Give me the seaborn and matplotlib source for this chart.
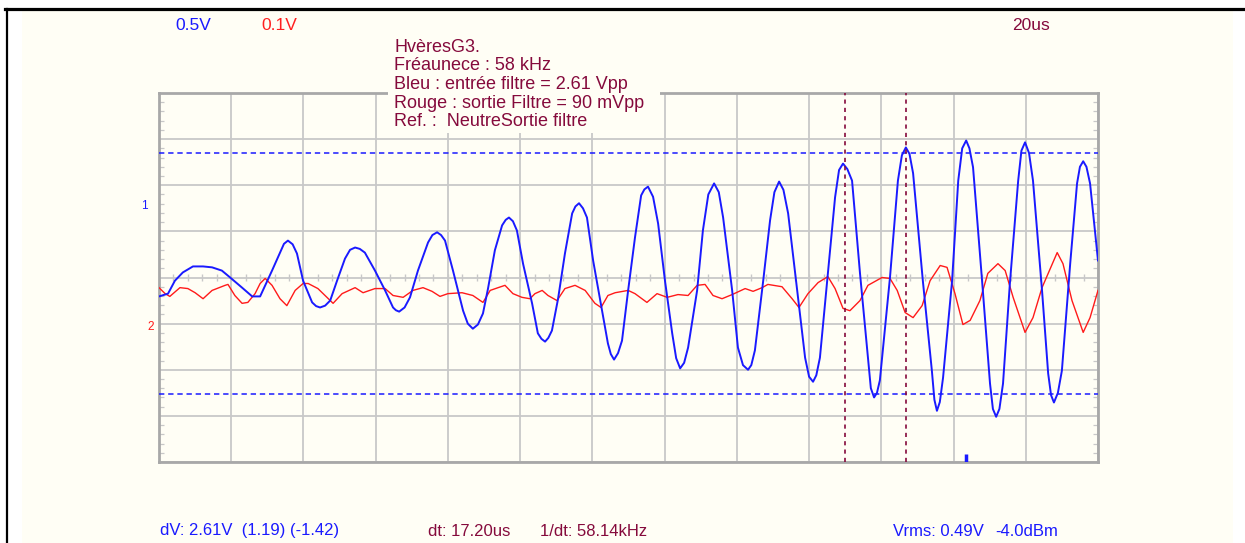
import numpy as np
import pandas as pd
import matplotlib
matplotlib.use("Agg")
import matplotlib.pyplot as plt
from matplotlib.patches import Rectangle
from matplotlib.lines import Line2D
from matplotlib.ticker import MultipleLocator
import seaborn as sns

# ---------------- data (time in us, amplitude in screen divisions) ----------------
blue_t = [0.0, 2.5, 4.4, 6.6, 9.4, 12.2, 14.7, 17.4, 19.7, 23.0, 25.8, 28.0, 29.4, 31.3,
          33.5, 34.6, 35.7, 37.0, 38.2, 39.9, 42.4, 43.5, 44.6, 46.0, 47.4, 49.3, 51.5,
          52.9, 54.3, 55.6, 57.0, 59.8, 62.6, 64.8, 65.6, 66.5, 68.0, 69.5, 71.7, 74.5,
          75.7, 77.0, 78.1, 79.2, 81.4, 84.2, 85.5, 86.9, 88.3, 89.7, 91.1, 93.0, 95.0,
          96.0, 96.9, 98.0, 99.1, 100.8, 103.3, 104.9, 105.9, 106.9, 107.8, 108.8, 110.5,
          112.4, 114.4, 115.3, 116.3, 117.4, 118.5, 120.2, 122.7, 124.3, 125.1, 126.0,
          127.1, 128.2, 129.9, 131.8, 133.5, 134.4, 135.4, 136.8, 138.2, 140.1, 142.1,
          143.2, 144.3, 145.4, 146.5, 149.0, 150.6, 152.1, 153.7, 155.0, 156.2, 158.7,
          160.3, 161.7, 163.1, 164.0, 165.0, 167.3, 169.2, 170.4, 171.7, 172.9, 174.2,
          176.7, 178.9, 180.0, 181.1, 182.0, 183.0, 185.2, 187.2, 188.3, 189.4, 190.6,
          191.9, 194.1, 196.3, 197.1, 198.0, 198.8, 199.6, 202.4, 204.6, 205.7, 206.8,
          207.8, 208.8, 211.5, 214.0, 214.7, 215.4, 216.2, 217.1, 219.6, 221.3, 222.4,
          223.5, 224.4, 225.4, 227.9, 230.1, 230.9, 231.8, 232.7, 233.7, 235.6, 237.9,
          238.8, 239.8, 240.9, 242.0, 244.5, 246.2, 247.0, 247.8, 248.9, 250.0, 252.3,
          254.2, 255.0, 255.9, 256.8, 257.8, 260.0]
blue_v = [-0.41, -0.35, -0.07, 0.11, 0.24, 0.24, 0.22, 0.15, 0.00, -0.22, -0.41, -0.41,
          -0.17, 0.15, 0.54, 0.73, 0.80, 0.72, 0.52, -0.07, -0.54, -0.62, -0.65, -0.61,
          -0.50, -0.07, 0.41, 0.60, 0.65, 0.62, 0.54, 0.15, -0.28, -0.65, -0.71, -0.74,
          -0.65, -0.43, 0.15, 0.76, 0.92, 0.98, 0.92, 0.80, 0.15, -0.72, -1.00, -1.11,
          -1.02, -0.78, -0.24, 0.59, 1.13, 1.25, 1.30, 1.22, 1.02, 0.30, -0.56, -1.21,
          -1.33, -1.39, -1.31, -1.15, -0.46, 0.52, 1.39, 1.54, 1.61, 1.50, 1.30, 0.37,
          -0.72, -1.43, -1.66, -1.78, -1.64, -1.37, -0.28, 0.87, 1.78, 1.91, 1.97, 1.75,
          1.17, -0.07, -1.21, -1.75, -1.97, -1.85, -1.52, -0.28, 1.02, 1.80, 2.04, 1.85,
          1.30, -0.28, -1.52, -1.90, -2.00, -1.90, -1.58, -0.07, 1.24, 1.85, 2.08, 1.90,
          1.39, -0.28, -1.74, -2.15, -2.26, -2.12, -1.74, 0.09, 1.74, 2.33, 2.47, 2.35,
          2.10, 0.09, -1.74, -2.40, -2.60, -2.50, -2.23, 0.00, 2.10, 2.65, 2.82, 2.68,
          2.26, -0.07, -2.02, -2.65, -2.89, -2.70, -2.17, -0.07, 2.10, 2.80, 2.97, 2.80,
          2.39, -0.07, -2.30, -2.85, -3.02, -2.85, -2.30, -0.13, 2.10, 2.75, 2.93, 2.70,
          2.10, -0.28, -2.08, -2.55, -2.71, -2.50, -2.02, 0.30, 2.04, 2.40, 2.52, 2.40,
          2.04, 0.37]

red_t = [0.0, 1.7, 3.0, 5.8, 8.0, 10.0, 12.2, 14.7, 18.3, 19.1, 21.0, 23.0, 24.6, 26.6,
         28.0, 29.4, 31.3, 33.5, 35.4, 37.7, 39.9, 41.3, 44.0, 46.5, 48.2, 50.7, 54.3,
         56.5, 59.8, 62.6, 64.8, 67.6, 70.3, 73.1, 75.6, 77.8, 80.0, 83.9, 86.9, 89.7,
         91.7, 93.9, 95.8, 98.0, 100.5, 102.7, 104.1, 106.1, 107.7, 110.2, 112.4, 115.2,
         118.0, 120.7, 122.4, 124.3, 126.3, 129.9, 131.8, 135.1, 137.9, 140.7, 143.7,
         146.5, 149.0, 151.2, 153.4, 155.9, 158.7, 162.3, 164.5, 167.0, 168.6, 172.5,
         175.3, 177.2, 179.7, 182.5, 185.2, 187.2, 189.4, 191.3, 194.1, 196.3, 200.2,
         202.4, 204.4, 206.6, 208.8, 211.3, 213.5, 216.3, 218.2, 220.4, 222.6, 224.6,
         227.3, 229.5, 232.3, 234.3, 236.5, 239.8, 242.0, 244.5, 248.7, 250.3, 252.8,
         255.9, 257.8, 260.0]
red_v = [-0.22, -0.35, -0.41, -0.22, -0.24, -0.33, -0.46, -0.28, -0.17, -0.15, -0.39,
         -0.56, -0.54, -0.35, -0.13, -0.02, -0.17, -0.46, -0.61, -0.28, -0.13, -0.13,
         -0.24, -0.43, -0.56, -0.35, -0.22, -0.33, -0.24, -0.24, -0.39, -0.43, -0.28,
         -0.22, -0.30, -0.41, -0.35, -0.33, -0.39, -0.54, -0.28, -0.22, -0.17, -0.35,
         -0.43, -0.46, -0.35, -0.28, -0.39, -0.50, -0.24, -0.17, -0.28, -0.56, -0.65,
         -0.39, -0.33, -0.28, -0.35, -0.54, -0.35, -0.43, -0.37, -0.39, -0.17, -0.15,
         -0.39, -0.46, -0.37, -0.24, -0.30, -0.22, -0.15, -0.20, -0.46, -0.65, -0.35,
         -0.11, 0.02, -0.24, -0.67, -0.72, -0.50, -0.17, 0.00, -0.02, -0.28, -0.76,
         -0.87, -0.61, -0.07, 0.26, 0.22, -0.35, -1.02, -0.93, -0.50, 0.09, 0.30, 0.15,
         -0.43, -1.19, -0.87, -0.22, 0.54, 0.30, -0.50, -1.19, -0.87, -0.28]

cursor_t = [190.0, 206.9]          # vertical time cursors (us)
level_v = [2.71, -2.52]            # blue horizontal voltage cursors (div)
trigger_t = 223.5                  # trigger marker position (us)
time_div = 20                      # us per division
n_xdiv = 13
n_ydiv = 8

top_labels = [("0.5V", "#1a1aff"), ("0.1V", "#ff2020"), ("20us", "#850a3c")]
info_lines = ["HvèresG3.", "Fréaunece : 58 kHz", "Bleu : entrée filtre = 2.61 Vpp",
              "Rouge : sortie Filtre = 90 mVpp", "Ref. :  NeutreSortie filtre"]
bottom_labels = [("dV: 2.61V  (1.19) (-1.42)", "#1a1aff"), ("dt: 17.20us", "#850a3c"),
                 ("1/dt: 58.14kHz", "#850a3c"), ("Vrms: 0.49V", "#1a1aff"),
                 ("-4.0dBm", "#1a1aff")]

# ---------------- style ----------------
W, H = 1245, 543
CREAM = "#fffef5"
GRID = "#c8c8c8"
BORDER = "#a8a8a8"
BLUE = "#1a1aff"
RED = "#ff1a1a"
MAROON = "#850a3c"
plt.rcParams["font.family"] = ["Liberation Sans", "DejaVu Sans"]

fig = plt.figure(figsize=(W / 100, H / 100), dpi=100, facecolor="white")

def fx(px):
    return px / W

def fy(py):
    return 1 - py / H

# window frame
fig.add_artist(Rectangle((fx(22), 0), fx(1233) - fx(22), fy(11), transform=fig.transFigure,
                         facecolor=CREAM, edgecolor="none", zorder=-5))
fig.add_artist(Line2D([fx(5), 1], [fy(9), fy(9)], transform=fig.transFigure,
                      color="black", lw=2.3, zorder=-4))
fig.add_artist(Line2D([fx(7), fx(7)], [0, fy(9)], transform=fig.transFigure,
                      color="black", lw=1.6, zorder=-4))

ax = fig.add_axes([fx(159), fy(462), fx(1098) - fx(159), fy(93) - fy(462)])
ax.set_facecolor(CREAM)
ax.set_xlim(0, time_div * n_xdiv)
ax.set_ylim(-n_ydiv / 2, n_ydiv / 2)
ax.xaxis.set_major_locator(MultipleLocator(time_div))
ax.yaxis.set_major_locator(MultipleLocator(1))
ax.yaxis.set_minor_locator(MultipleLocator(0.2))
ax.grid(True, which="major", color=GRID, lw=1.3, zorder=0)
ax.set_axisbelow(True)
ax.tick_params(which="major", length=0, labelleft=False, labelbottom=False)
ax.tick_params(which="minor", axis="y", left=True, right=True, direction="in",
               length=3.8, width=0.9, color=GRID)
ax.tick_params(which="minor", axis="x", bottom=False, top=False)
for s in ax.spines.values():
    s.set_color(BORDER)
    s.set_linewidth(2.0)

# ticks along the centre line
centre_ticks = np.arange(0, time_div * n_xdiv + 0.1, time_div / 5)
ax.vlines(centre_ticks, -0.08, 0.08, color=GRID, lw=1.0, zorder=1)

# traces
blue_df = pd.DataFrame({"t": blue_t, "v": blue_v})
red_df = pd.DataFrame({"t": red_t, "v": red_v})
sns.lineplot(data=red_df, x="t", y="v", ax=ax, color=RED, lw=1.0, estimator=None,
             sort=False, zorder=3)
sns.lineplot(data=blue_df, x="t", y="v", ax=ax, color=BLUE, lw=1.4, estimator=None,
             sort=False, zorder=4, solid_joinstyle="round")
ax.set_xlabel("")
ax.set_ylabel("")

# cursors
for v in level_v:
    ax.axhline(v, color=BLUE, lw=1.1, ls=(0, (3.5, 2.5)), zorder=5)
for t in cursor_t:
    ax.axvline(t, color=MAROON, lw=1.2, ls=(0, (2.5, 2.5)), zorder=5)
ax.vlines([trigger_t], -n_ydiv / 2, -n_ydiv / 2 + 0.18, color=BLUE, lw=2.5, zorder=6)

# channel markers
ax.text(-0.012, 1.54, "1", transform=ax.get_yaxis_transform(), ha="right", va="center",
        color=BLUE, fontsize=8.5)
ax.text(-0.005, -1.08, "2", transform=ax.get_yaxis_transform(), ha="right", va="center",
        color=RED, fontsize=8.5)

# top labels
for (txt, col), px in zip(top_labels, [175, 261, 1012]):
    fig.text(fx(px), fy(26), txt, color=col, fontsize=12.5, ha="left", va="center")

# info block with a cream background covering the grid
fig.add_artist(Rectangle((fx(388), fy(133)), fx(660) - fx(388), fy(35) - fy(133),
                         transform=fig.transFigure, facecolor=CREAM, edgecolor="none",
                         zorder=2))
for line, py in zip(info_lines, [47, 66, 85, 104, 122]):
    fig.text(fx(394), fy(py), line, color=MAROON, fontsize=13, ha="left", va="center",
             zorder=3)

# bottom readouts
for (txt, col), px in zip(bottom_labels, [160, 428, 540, 893, 995]):
    fig.text(fx(px), fy(531), txt, color=col, fontsize=12, ha="left", va="center")

fig.savefig("out.png", dpi=100, facecolor="white")
